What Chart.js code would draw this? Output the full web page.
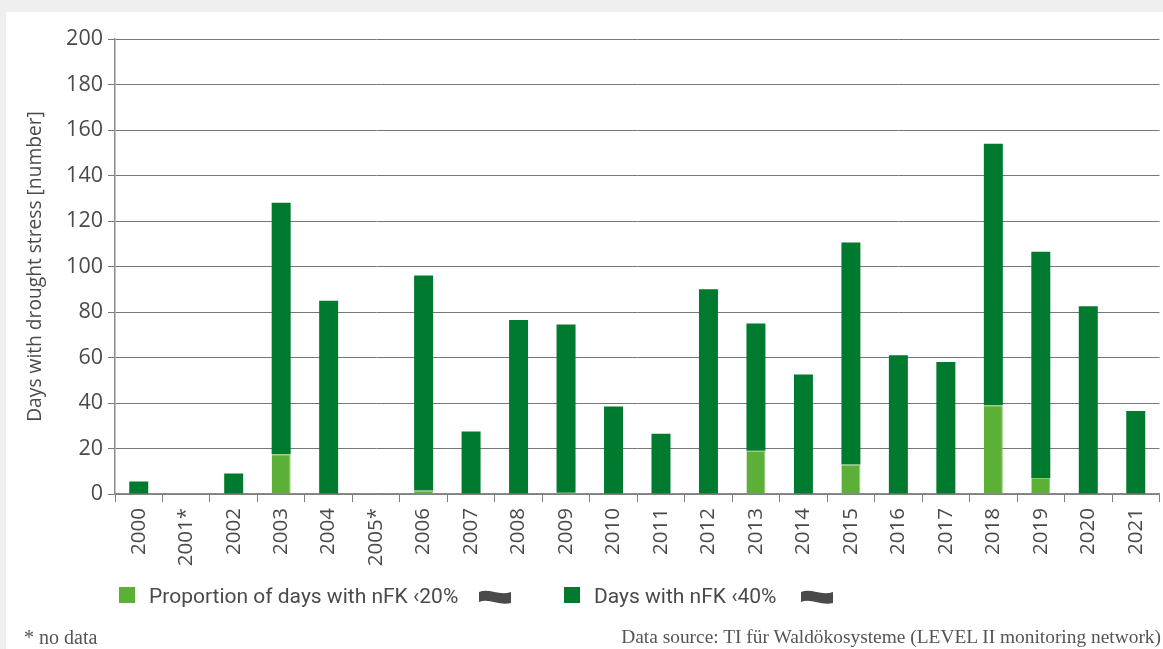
<!DOCTYPE html>
<html lang="en">
<head>
<meta charset="UTF-8">
<title>Days with drought stress</title>
<script src="https://cdn.jsdelivr.net/npm/chart.js"></script>
<style>
    html, body { margin: 0; padding: 0; }
    body {
        width: 1163px;
        height: 649px;
        background: #efefef;
        overflow: hidden;
        position: relative;
    }
    #panel {
        position: absolute;
        left: 6px;
        top: 12px;
        width: 1157px;
        height: 637px;
        background: #fff;
    }
    #chartBox { position: absolute; left: 0; top: 0; width: 1163px; height: 649px; }
    .legend {
        position: absolute;
        top: 584px;
        font: 21px Roboto, "Open Sans", sans-serif;
        color: #4a4a49;
        white-space: nowrap;
    }
    .swatch { position: absolute; top: 587px; width: 16px; height: 16px; }
    .flag { position: absolute; top: 589px; }
    .note {
        position: absolute;
        top: 626px;
        font: 19.4px "Liberation Serif", serif;
        color: #555;
        white-space: nowrap;
    }
</style>
</head>
<body>
<div id="panel"></div>
<div id="chartBox"><canvas id="droughtChart" width="1163" height="649"></canvas></div>

<div class="swatch" style="left:119px; background:#5cb038"></div>
<div class="legend" style="left:149px" id="legendLow"></div>
<svg class="flag" style="left:479px" width="32" height="16"><path d="M0 3 C10 -1 20 7 32 3 V14 C20 17 10 9 0 13 Z" fill="#4a4a49"/></svg>

<div class="swatch" style="left:564px; background:#007a2f"></div>
<div class="legend" style="left:594px" id="legendHigh"></div>
<svg class="flag" style="left:801px" width="32" height="16"><path d="M0 3 C10 -1 20 7 32 3 V14 C20 17 10 9 0 13 Z" fill="#4a4a49"/></svg>

<div class="note" style="left:24px; font-size:20px">* no data</div>
<div class="note" style="right:2px">Data source: TI für Waldökosysteme (LEVEL II monitoring network)</div>

<script>
    const years = ['2000','2001*','2002','2003','2004','2005*','2006','2007','2008','2009','2010',
                   '2011','2012','2013','2014','2015','2016','2017','2018','2019','2020','2021'];
    // days below 20 %
    const daysBelow20 = [0,0,0,17.5,0,0,1.5,0,0,0.5,0,0,0,19,0,13,0,0,39,7,0,0];
    // rest of the stack up to the days below 40 %
    const daysBelow40 = [5.5,0,9,110.5,85,0,94.5,27.5,76.5,74,38.5,26.5,90,56,52.5,97.5,61,58,115,99.5,82.5,36.5];
    const yTicks = [0,20,40,60,80,100,120,140,160,180,200];

    const labelLow = 'Proportion of days with nFK ‹20%';
    const labelHigh = 'Days with nFK ‹40%';
    document.getElementById('legendLow').textContent = labelLow;
    document.getElementById('legendHigh').textContent = labelHigh;

    Chart.defaults.font.family = '"Open Sans", "Noto Sans", sans-serif';
    Chart.defaults.color = '#4a4a49';

    new Chart(document.getElementById('droughtChart').getContext('2d'), {
        type: 'bar',
        data: {
            labels: years,
            datasets: [
                { label: labelLow, data: daysBelow20, backgroundColor: '#5cb038', borderColor: '#8cc870',
                  borderWidth: { top: 1, right: 1 }, borderSkipped: false, stack: 's' },
                { label: labelHigh, data: daysBelow40, backgroundColor: '#007a2f', stack: 's' }
            ]
        },
        options: {
            responsive: false,
            animation: false,
            layout: { padding: { left: 24, top: 39, right: 3.5, bottom: 0 } },
            plugins: { legend: { display: false }, tooltip: { enabled: false } },
            datasets: { bar: { categoryPercentage: 0.4, barPercentage: 1 } },
            scales: {
                x: {
                    stacked: true,
                    afterFit: axis => { axis.height = 155; axis.paddingRight = 0; axis.paddingLeft = 0; },
                    grid: { drawOnChartArea: false, color: '#7f7f7f', tickLength: 8 },
                    border: { color: '#8a8a8a', width: 1.5 },
                    ticks: { font: { size: 20.5 }, minRotation: 90, maxRotation: 90, autoSkip: false, padding: 6 }
                },
                y: {
                    stacked: true,
                    min: 0,
                    max: 200,
                    afterFit: axis => { axis.width = 91; axis.paddingTop = 0; axis.paddingBottom = 0; },
                    afterBuildTicks: axis => { axis.ticks = yTicks.map(v => ({ value: v })); },
                    grid: { color: '#777', lineWidth: 1, tickLength: 7 },
                    border: { color: '#8a8a8a', width: 1.5 },
                    ticks: { font: { size: 21.5 }, padding: 5 },
                    title: { display: true, text: 'Days with drought stress [number]', font: { size: 19.2 }, padding: { top: 0, bottom: 8 } }
                }
            }
        }
    });
</script>
</body>
</html>
